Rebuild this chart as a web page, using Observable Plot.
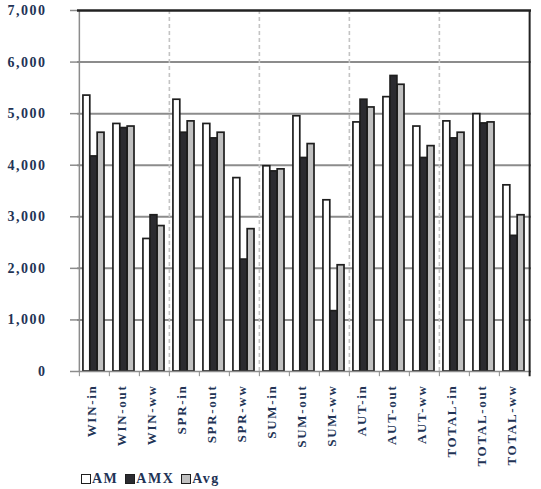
<!DOCTYPE html>
<html>
<head>
<meta charset="utf-8">
<script src="https://cdn.jsdelivr.net/npm/d3@7"></script>
<script src="https://cdn.jsdelivr.net/npm/@observablehq/plot@0.6"></script>
<style>
  body { margin: 0; background: #fff; }
  #legend { font: bold 14px "Liberation Serif", serif; color: #223355; padding-left: 81px; margin-top: -5px; height: 20px; line-height: 20px; letter-spacing: 1.5px; white-space: nowrap; }
  #legend .sw { display: inline-block; width: 8px; height: 8px; border: 1.5px solid #1e1e1e; vertical-align: -1px; margin-right: 1px; }
  #legend .item { margin-right: 7px; }
</style>
</head>
<body>
<div id="chart"></div>
<div id="legend"></div>
<script>
const cats = ["WIN-in","WIN-out","WIN-ww","SPR-in","SPR-out","SPR-ww","SUM-in","SUM-out","SUM-ww","AUT-in","AUT-out","AUT-ww","TOTAL-in","TOTAL-out","TOTAL-ww"];
const am  = [5350,4800,2570,5270,4800,3750,3980,4950,3320,4830,5320,4750,4850,4990,3610];
const amx = [4170,4720,3030,4630,4520,2170,3880,4140,1170,5270,5730,4140,4520,4810,2630];
const avg = [4630,4750,2820,4850,4630,2760,3920,4410,2060,5120,5560,4370,4630,4830,3030];
const seriesNames = ["AM","AMX","Avg"];
const seriesFills = ["#ffffff","#2b2b30","#c0c0c0"];
const yTicks = [0,1000,2000,3000,4000,5000,6000,7000];
const seasonStarts = ["SPR-in","SUM-in","AUT-in","TOTAL-in"];

const rows = cats.map((c, i) => ({cat: c, AM: am[i], AMX: amx[i], Avg: avg[i]}));

const W = 541, H = 474, ML = 77, MR = 10, MT = 10, MB = 103;
const bw = (W - ML - MR) / cats.length;
const lead = bw * 0.13, barW = bw * 0.235;
const ins = k => ({insetLeft: lead + k * barW, insetRight: bw - lead - (k + 1) * barW});
const navy = "#223355";
const gray = "#8c8c8c";

const plot = Plot.plot({
  width: W, height: H,
  marginLeft: ML, marginRight: MR, marginTop: MT, marginBottom: MB,
  style: {fontFamily: "Liberation Serif, serif", background: "#fff"},
  x: {type: "band", domain: cats, padding: 0},
  y: {domain: [0, 7000]},
  marks: [
    Plot.ruleY(yTicks.filter(v => v > 0 && v < 7000), {stroke: gray, strokeWidth: 2}),
    ...seriesNames.map((s, k) => Plot.barY(rows, {x: "cat", y: s, fill: seriesFills[k], stroke: "#1e1e1e", strokeWidth: 1.7, ...ins(k)})),
    Plot.ruleX(seasonStarts, {x: d => d, y1: 0, y2: 7000, dx: -bw / 2, stroke: "#c4c4c4", strokeWidth: 1.6, strokeDasharray: "4,3"}),
    Plot.ruleY([0], {stroke: gray, strokeWidth: 1.5}),
    Plot.ruleX([cats[0]], {x: d => d, y1: 0, y2: 7000, dx: -bw / 2, stroke: gray, strokeWidth: 1.5}),
    Plot.ruleX(cats, {x: d => d, y1: 0, y2: -100, dx: -bw / 2, stroke: gray, strokeWidth: 1}),
    Plot.ruleX([cats[cats.length - 1]], {x: d => d, y1: -100, y2: 7000, dx: bw / 2, stroke: "#222", strokeWidth: 2}),
    Plot.ruleY([7000], {stroke: "#222", strokeWidth: 2.5}),
    Plot.axisY({ticks: yTicks, tickFormat: d3.format(","), tickSize: 7, tickPadding: 24, stroke: gray, strokeWidth: 1.5, fill: navy, fontSize: 14, fontWeight: "bold", label: null}),
    Plot.axisX({tickSize: 0, tickRotate: -90, tickPadding: 13, fill: navy, fontSize: 13, fontWeight: "bold", label: null, dx: -3})
  ]
});
plot.querySelectorAll('g[aria-label="x-axis tick label"] text').forEach(t => t.style.letterSpacing = "1.7px");
plot.querySelectorAll('g[aria-label="y-axis tick label"] text').forEach(t => t.style.letterSpacing = "1.5px");
document.getElementById("chart").appendChild(plot);

const legend = document.getElementById("legend");
seriesNames.forEach((s, k) => {
  const item = document.createElement("span");
  item.className = "item";
  const sw = document.createElement("span");
  sw.className = "sw";
  sw.style.background = seriesFills[k];
  item.appendChild(sw);
  item.appendChild(document.createTextNode(s));
  legend.appendChild(item);
});
</script>
</body>
</html>
